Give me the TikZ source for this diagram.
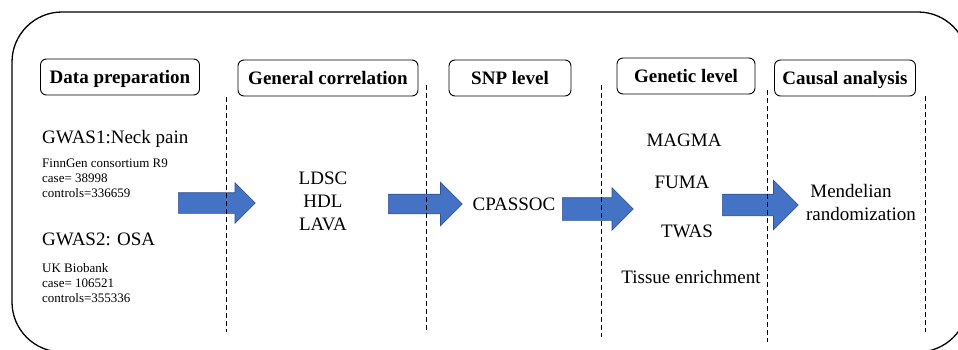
\documentclass[tikz,border=0pt]{standalone}
\usepackage{fontspec}
\setmainfont{Liberation Serif}
\usetikzlibrary{shapes.arrows}
\definecolor{arrowblue}{HTML}{4472C4}
\definecolor{arrowedge}{HTML}{2F528F}

\begin{document}
\begin{tikzpicture}[x=1pt,y=-1pt,
    header/.style={draw,rounded corners=6pt,line width=0.9pt,inner sep=0pt,
        minimum height=36pt,text height=13pt,text depth=0pt,
        font=\fontsize{19}{22}\selectfont\bfseries},
    bigtext/.style={inner sep=0pt,font=\fontsize{19}{22}\selectfont},
    smalltext/.style={inner sep=0pt,anchor=base west,font=\fontsize{13}{15}\selectfont},
    bluearrow/.style={single arrow,draw=arrowedge,fill=arrowblue,line width=0.6pt,
        inner xsep=0pt,text height=0pt,text depth=0pt,
        single arrow head indent=0pt,anchor=tail},
    sep/.style={dashed,dash pattern=on 5pt off 3pt,line width=0.9pt}]

    \useasboundingbox (0,0) rectangle (958,349);

    % Outer frame
    \begin{scope}
        \clip (0,0) rectangle (958,349);
        \draw[line width=1.3pt,rounded corners=50pt] (12,12) rectangle (968,352);
    \end{scope}

    % Stage headers
    \node[header,minimum width=159pt] (prep)   at (120,77) {Data preparation};
    \node[header,minimum width=180pt] (corr)   at (328,78) {General correlation};
    \node[header,minimum width=122pt] (snp)    at (510,78) {SNP level};
    \node[header,minimum width=138pt] (gene)   at (686,76) {Genetic level};
    \node[header,minimum width=141pt] (causal) at (845,78) {Causal analysis};

    % Data preparation
    \node[bigtext,anchor=base west] (gwasA) at (42,143) {GWAS1:Neck pain};
    \node[smalltext] (srcA)  at (42,167) {FinnGen consortium R9};
    \node[smalltext] (caseA) at (42,182) {case= 38998};
    \node[smalltext] (ctrlA) at (42,197) {controls=336659};
    \node[bigtext,anchor=base west] (gwasB) at (42,245) {GWAS2: OSA};
    \node[smalltext] (srcB)  at (42,272) {UK Biobank};
    \node[smalltext] (caseB) at (42,287) {case= 106521};
    \node[smalltext] (ctrlB) at (42,302) {controls=355336};

    % General correlation
    \node[bigtext,anchor=base] (ldsc) at (323,184) {LDSC};
    \node[bigtext,anchor=base] (hdl)  at (323,207) {HDL};
    \node[bigtext,anchor=base] (lava) at (323,230) {LAVA};

    % SNP level
    \node[bigtext,anchor=base] (cpassoc) at (514,210) {CPASSOC};

    % Genetic level
    \node[bigtext,anchor=base] (magma)  at (684,146) {MAGMA};
    \node[bigtext,anchor=base] (fuma)   at (682,188) {FUMA};
    \node[bigtext,anchor=base] (twas)   at (687,237) {TWAS};
    \node[bigtext,anchor=base] (tissue) at (691,283) {Tissue enrichment};

    % Causal analysis
    \node[bigtext,anchor=base] (mendel) at (851,197) {Mendelian};
    \node[bigtext,anchor=base] (random) at (861,220) {randomization};

    % Block arrows between stages
    \node[bluearrow,minimum height=77pt,inner ysep=10pt,single arrow head extend=10pt] (arrA) at (178,203) {};
    \node[bluearrow,minimum height=74pt,inner ysep=9.5pt,single arrow head extend=12pt] (arrB) at (388,204) {};
    \node[bluearrow,minimum height=71pt,inner ysep=11pt,single arrow head extend=10pt] (arrC) at (562,209) {};
    \node[bluearrow,minimum height=76pt,inner ysep=10.5pt,single arrow head extend=14pt] (arrD) at (722,205) {};

    % Stage separators
    \foreach \x/\ya/\yb in {226/97/332, 426/85/330, 601/85/337, 767/90/342, 925/96/332}
        \draw[sep] (\x,\ya) -- (\x,\yb);

\end{tikzpicture}
\end{document}
